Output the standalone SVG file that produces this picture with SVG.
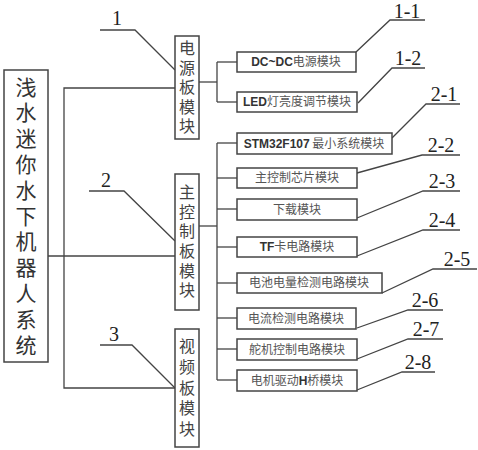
<svg xmlns="http://www.w3.org/2000/svg" width="478" height="450" viewBox="0 0 478 450">
<style>
.box{fill:#fff;stroke:#444;stroke-width:1.5}
.ln{fill:none;stroke:#444;stroke-width:1.3}
.vt{writing-mode:vertical-rl;text-anchor:middle;font-family:"Noto Sans CJK SC","Liberation Serif",serif}
.big{font-size:21px;fill:#333;letter-spacing:4.8px}
.brd{font-size:16px;fill:#444;letter-spacing:3.6px}
.mod{font-family:"Noto Sans CJK SC",sans-serif;font-size:12px;fill:#555;text-anchor:middle}
.lat{font-family:"Liberation Sans",Arial,sans-serif;font-weight:bold;fill:#333}
.num{font-family:"Liberation Serif","Times New Roman",serif;font-size:20px;fill:#222;text-anchor:middle}
</style>
<rect width="478" height="450" fill="#fff"/>
<g id="connectors">
<polyline class="ln" points="175,88 64,88 64,388 175,388"/>
<line class="ln" x1="48" y1="256" x2="175" y2="256"/>
<line class="ln" x1="199" y1="82" x2="217" y2="82"/>
<line class="ln" x1="217" y1="62" x2="217" y2="102"/>
<line class="ln" x1="217" y1="62" x2="237" y2="62"/>
<line class="ln" x1="217" y1="102" x2="237" y2="102"/>
<line class="ln" x1="199" y1="226" x2="217" y2="226"/>
<line class="ln" x1="217" y1="143" x2="217" y2="380"/>
<line class="ln" x1="217" y1="143" x2="237" y2="143"/>
<line class="ln" x1="217" y1="178" x2="237" y2="178"/>
<line class="ln" x1="217" y1="209" x2="237" y2="209"/>
<line class="ln" x1="217" y1="247" x2="237" y2="247"/>
<line class="ln" x1="217" y1="283" x2="237" y2="283"/>
<line class="ln" x1="217" y1="318" x2="237" y2="318"/>
<line class="ln" x1="217" y1="349" x2="237" y2="349"/>
<line class="ln" x1="217" y1="380" x2="237" y2="380"/>
<polyline class="ln" points="100,30 135,30 175,70"/>
<polyline class="ln" points="89,191 124,191 175,241"/>
<polyline class="ln" points="100,345 132,345 175,388"/>
<polyline class="ln" points="356,52 390,20 425,20"/>
<polyline class="ln" points="358,103 392,68 425,68"/>
<polyline class="ln" points="392,138 426,104 460,104"/>
<polyline class="ln" points="357,173 422,155 460,155"/>
<polyline class="ln" points="357,218 423,191 460,191"/>
<polyline class="ln" points="357,256 423,230 460,230"/>
<polyline class="ln" points="382,293 433,269 477,269"/>
<polyline class="ln" points="357,328 408,310 443,310"/>
<polyline class="ln" points="357,359 408,339 443,339"/>
<polyline class="ln" points="357,390 402,372 435,372"/>
</g>
<g id="labels">
<text class="num" x="117" y="25">1</text>
<text class="num" x="106" y="187">2</text>
<text class="num" x="114" y="341">3</text>
<text class="num" x="407" y="18">1-1</text>
<text class="num" x="408" y="65">1-2</text>
<text class="num" x="444" y="101">2-1</text>
<text class="num" x="441" y="152">2-2</text>
<text class="num" x="442" y="188">2-3</text>
<text class="num" x="442" y="227">2-4</text>
<text class="num" x="457" y="266">2-5</text>
<text class="num" x="425" y="307">2-6</text>
<text class="num" x="426" y="336">2-7</text>
<text class="num" x="418" y="369">2-8</text>
</g>
<g id="system">
<rect class="box" x="4" y="70" width="44" height="292"/>
<text class="vt big" x="26" y="218">浅水迷你水下机器人系统</text>
</g>
<g id="power-board">
<rect class="box" x="175" y="36" width="24" height="103"/>
<text class="vt brd" x="187" y="89">电源板模块</text>
</g>
<g id="main-board">
<rect class="box" x="175" y="174" width="24" height="136"/>
<text class="vt brd" x="187" y="243">主控制板模块</text>
</g>
<g id="video-board">
<rect class="box" x="175" y="329" width="24" height="118"/>
<text class="vt brd" x="187" y="390" style="letter-spacing:4.8px">视频板模块</text>
</g>
<g id="m1-1"><rect class="box" x="237" y="52" width="119" height="20"/><text class="mod" x="296" y="66"><tspan class="lat">DC~DC</tspan>电源模块</text></g>
<g id="m1-2"><rect class="box" x="237" y="92" width="120" height="20"/><text class="mod" x="297" y="106"><tspan class="lat">LED</tspan>灯亮度调节模块</text></g>
<g id="m2-1"><rect class="box" x="237" y="133" width="155" height="21"/><text class="mod" x="314" y="148"><tspan class="lat">STM32F107</tspan> 最小系统模块</text></g>
<g id="m2-2"><rect class="box" x="237" y="168" width="120" height="20"/><text class="mod" x="297" y="182">主控制芯片模块</text></g>
<g id="m2-3"><rect class="box" x="237" y="199" width="120" height="21"/><text class="mod" x="297" y="214">下载模块</text></g>
<g id="m2-4"><rect class="box" x="237" y="237" width="120" height="20"/><text class="mod" x="297" y="251"><tspan class="lat">TF</tspan>卡电路模块</text></g>
<g id="m2-5"><rect class="box" x="237" y="273" width="145" height="20"/><text class="mod" x="309" y="287">电池电量检测电路模块</text></g>
<g id="m2-6"><rect class="box" x="237" y="308" width="119" height="21"/><text class="mod" x="296" y="323">电流检测电路模块</text></g>
<g id="m2-7"><rect class="box" x="237" y="339" width="120" height="21"/><text class="mod" x="297" y="354">舵机控制电路模块</text></g>
<g id="m2-8"><rect class="box" x="237" y="370" width="120" height="21"/><text class="mod" x="297" y="385">电机驱动<tspan class="lat">H</tspan>桥模块</text></g>
</svg>
